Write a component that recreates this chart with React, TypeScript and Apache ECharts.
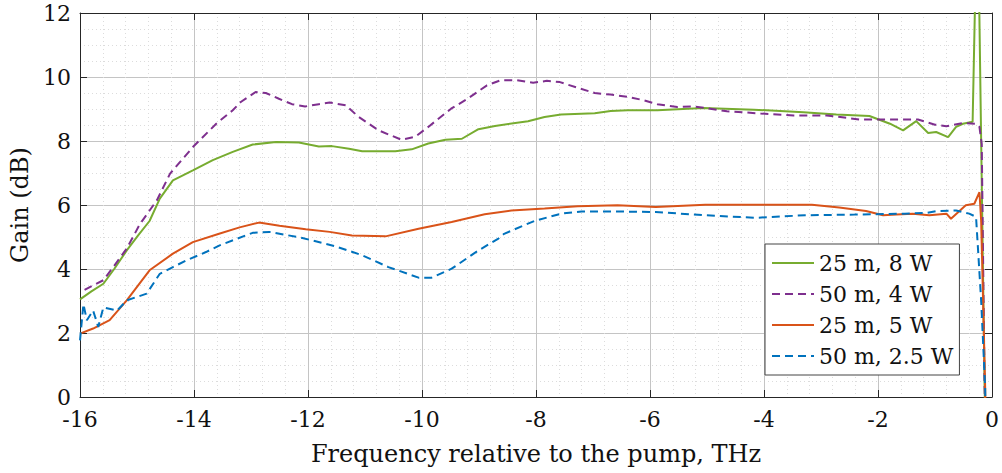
import React, { useEffect, useRef } from "react";
import * as echarts from "echarts";

const seriesNames = ["25 m, 8 W", "50 m, 4 W", "25 m, 5 W", "50 m, 2.5 W"];

const green25m8W: number[][] = [
  [-16, 3.05], [-15.8, 3.3], [-15.59, 3.54], [-15.4, 4.0], [-15.18, 4.58], [-14.98, 5.05],
  [-14.78, 5.5], [-14.6, 6.2], [-14.37, 6.77], [-14.02, 7.08], [-13.67, 7.4], [-13.32, 7.66],
  [-12.97, 7.89], [-12.56, 7.97], [-12.16, 7.95], [-11.81, 7.83], [-11.58, 7.84], [-11.28, 7.76],
  [-11.05, 7.68], [-10.47, 7.68], [-10.18, 7.74], [-9.89, 7.92], [-9.59, 8.04], [-9.3, 8.07],
  [-9.01, 8.37], [-8.72, 8.47], [-8.14, 8.62], [-7.85, 8.75], [-7.56, 8.83], [-6.97, 8.87],
  [-6.69, 8.94], [-6.39, 8.96], [-5.87, 8.96], [-5.06, 9.03], [-4.18, 8.98], [-3.31, 8.9],
  [-2.73, 8.83], [-2.15, 8.78], [-1.79, 8.54], [-1.56, 8.33], [-1.33, 8.62], [-1.12, 8.25],
  [-0.98, 8.28], [-0.77, 8.12], [-0.63, 8.44], [-0.51, 8.54], [-0.34, 8.6], [-0.29, 13],
  [-0.23, 13], [-0.19, 8.0], [-0.13, 0.3], [-0.1, -2],
];

const purple50m4W: number[][] = [
  [-15.92, 3.35], [-15.59, 3.65], [-15.4, 4.1], [-15.18, 4.64], [-14.95, 5.4], [-14.65, 6.15],
  [-14.42, 6.98], [-14.02, 7.81], [-13.61, 8.54], [-13.32, 8.96], [-13.18, 9.22], [-12.92, 9.53],
  [-12.74, 9.5], [-12.51, 9.32], [-12.28, 9.15], [-12.05, 9.08], [-11.81, 9.15], [-11.62, 9.2],
  [-11.34, 9.12], [-11.11, 8.75], [-10.76, 8.33], [-10.36, 8.04], [-10.12, 8.13], [-9.89, 8.44],
  [-9.49, 9.01], [-9.2, 9.32], [-8.86, 9.74], [-8.62, 9.9], [-8.33, 9.9], [-8.05, 9.82],
  [-7.81, 9.88], [-7.58, 9.84], [-7.23, 9.64], [-6.97, 9.5], [-6.69, 9.45], [-6.39, 9.38],
  [-6.1, 9.27], [-5.87, 9.15], [-5.52, 9.06], [-5.23, 9.08], [-4.65, 8.93], [-4.06, 8.86],
  [-3.48, 8.8], [-2.9, 8.8], [-2.32, 8.67], [-1.74, 8.67], [-1.3, 8.67], [-1.0, 8.51],
  [-0.8, 8.46], [-0.51, 8.56], [-0.28, 8.54], [-0.22, 8.44], [-0.18, 7.9], [-0.13, 0.3],
  [-0.1, -2],
];

const orange25m5W: number[][] = [
  [-16, 1.98], [-15.77, 2.14], [-15.48, 2.4], [-15.18, 3.02], [-14.78, 3.96], [-14.37, 4.48],
  [-14.02, 4.84], [-13.56, 5.1], [-13.2, 5.3], [-12.86, 5.45], [-12.5, 5.35], [-12.04, 5.24],
  [-11.62, 5.16], [-11.23, 5.05], [-10.64, 5.02], [-10.06, 5.26], [-9.48, 5.47], [-8.9, 5.71],
  [-8.43, 5.83], [-7.85, 5.89], [-7.27, 5.96], [-6.57, 5.99], [-5.9, 5.94], [-5.03, 6.01],
  [-3.86, 6.01], [-3.16, 6.01], [-2.68, 5.92], [-2.21, 5.81], [-1.91, 5.68], [-1.68, 5.7],
  [-1.39, 5.73], [-1.1, 5.68], [-0.8, 5.73], [-0.72, 5.57], [-0.46, 5.99], [-0.31, 6.04],
  [-0.22, 6.4], [-0.19, 5.5], [-0.12, 0.3], [-0.1, -2],
];

const blue50m25W: number[][] = [
  [-16, 1.77], [-15.94, 2.9], [-15.88, 2.4], [-15.77, 2.7], [-15.68, 2.19], [-15.59, 2.8],
  [-15.35, 2.7], [-15.18, 3.02], [-14.83, 3.23], [-14.6, 3.85], [-14.37, 4.06], [-14.13, 4.27],
  [-13.79, 4.53], [-13.55, 4.74], [-12.97, 5.13], [-12.68, 5.16], [-12.1, 4.97], [-11.52, 4.71],
  [-11.05, 4.43], [-10.59, 4.06], [-10.06, 3.73], [-9.83, 3.73], [-9.48, 4.01], [-9.01, 4.58],
  [-8.66, 4.95], [-8.56, 5.1], [-8.03, 5.5], [-7.56, 5.73], [-7.2, 5.8], [-6.69, 5.8],
  [-5.9, 5.78], [-5.03, 5.68], [-4.15, 5.6], [-3.28, 5.68], [-2.41, 5.7], [-1.53, 5.73],
  [-1.16, 5.75], [-0.98, 5.81], [-0.63, 5.83], [-0.4, 5.73], [-0.28, 5.63], [-0.19, 3.0],
  [-0.12, 0.3], [-0.1, -2],
];

const xTicks = { min: -16, max: 0, interval: 2 };
const yTicks = { min: 0, max: 12, interval: 2 };

const FONT = "DejaVu Serif";

export default function App() {
  const ref = useRef<HTMLDivElement>(null);
  useEffect(() => {
    document.body.style.margin = "0";
    const chart = echarts.init(ref.current!, null, { renderer: "svg" });
    const axisLine = { show: true, onZero: false, lineStyle: { color: "#262626", width: 1 } };
    const tick = { show: true, inside: true, length: 7, lineStyle: { color: "#262626" } };
    const splitLine = { show: true, lineStyle: { color: "#c4c4c4", width: 1 } };
    const minorSplit = { show: true, lineStyle: { color: "#dcdcdc", width: 1, type: [1, 3] as any } };
    const mk = (name: string, data: number[][], color: string, dashed: boolean) => ({
      name,
      type: "line",
      data,
      symbol: "none",
      clip: true,
      lineStyle: { color, width: 2, type: dashed ? ([8, 5] as any) : "solid" },
      itemStyle: { color },
    });
    chart.setOption({
      animation: false,
      grid: { left: 80, right: 6, top: 13, bottom: 76, containLabel: false },
      xAxis: [
        {
          type: "value",
          ...xTicks,
          name: "Frequency relative to the pump, THz",
          nameLocation: "middle",
          nameGap: 45,
          nameTextStyle: { fontFamily: FONT, fontSize: 24, color: "#111" },
          axisLine,
          axisTick: tick,
          axisLabel: { fontFamily: FONT, fontSize: 22, color: "#111", margin: 11 },
          splitLine,
          minorTick: { show: false, splitNumber: 5 },
          minorSplitLine: minorSplit,
        },
        {
          type: "value",
          position: "top",
          ...xTicks,
          axisLine,
          axisTick: tick,
          axisLabel: { show: false },
          splitLine: { show: false },
        },
      ],
      yAxis: [
        {
          type: "value",
          ...yTicks,
          name: "Gain (dB)",
          nameLocation: "middle",
          nameGap: 43,
          nameTextStyle: { fontFamily: FONT, fontSize: 24, color: "#111" },
          axisLine,
          axisTick: tick,
          axisLabel: { fontFamily: FONT, fontSize: 22, color: "#111", margin: 9 },
          splitLine,
          minorTick: { show: false, splitNumber: 4 },
          minorSplitLine: minorSplit,
        },
        {
          type: "value",
          position: "right",
          ...yTicks,
          axisLine,
          axisTick: tick,
          axisLabel: { show: false },
          splitLine: { show: false },
        },
      ],
      legend: {
        show: true,
        orient: "vertical",
        left: 765,
        top: 244,
        data: seriesNames,
        backgroundColor: "#ffffff",
        borderColor: "#444",
        borderWidth: 1,
        borderRadius: 0,
        padding: [8, 6, 8, 6],
        itemWidth: 42,
        itemHeight: 14,
        itemGap: 9,
        itemStyle: { color: "rgba(0,0,0,0)", borderColor: "rgba(0,0,0,0)", borderWidth: 0 },
        textStyle: { fontFamily: FONT, fontSize: 22, color: "#111", lineHeight: 22 },
      },
      series: [
        mk(seriesNames[0], green25m8W, "#77AC30", false),
        mk(seriesNames[1], purple50m4W, "#7E2F8E", true),
        mk(seriesNames[2], orange25m5W, "#D95319", false),
        mk(seriesNames[3], blue50m25W, "#0072BD", true),
      ],
    });
    return () => chart.dispose();
  }, []);
  return <div ref={ref} style={{ width: 1002, height: 473 }} />;
}
